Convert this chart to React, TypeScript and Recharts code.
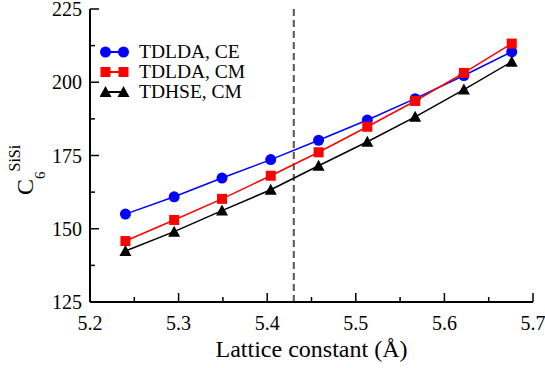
import React from 'react';
import { LineChart, Line, XAxis, YAxis, ReferenceLine, Legend } from 'recharts';

// lattice constant (Å) and C6 values
const lattice = [5.24, 5.295, 5.349, 5.404, 5.458, 5.513, 5.567, 5.622, 5.676];
const tdldaCE = [155.0, 160.9, 167.3, 173.6, 180.2, 187.1, 194.4, 202.3, 210.4];
const tdldaCM = [145.8, 153.0, 160.2, 168.1, 176.1, 184.8, 193.6, 203.2, 213.2];
const tdhseCM = [142.4, 149.0, 156.2, 163.3, 171.5, 179.7, 188.2, 197.5, 207.0];

const xTicks = [5.2, 5.25, 5.3, 5.35, 5.4, 5.45, 5.5, 5.55, 5.6, 5.65, 5.7];
const yTicks = [125, 137.5, 150, 162.5, 175, 187.5, 200, 212.5, 225];
const siLattice = 5.43;

const series = [
  { key: 'ce', name: 'TDLDA, CE', color: '#0000ff', shape: 'circle' },
  { key: 'cm', name: 'TDLDA, CM', color: '#ff0000', shape: 'square' },
  { key: 'hse', name: 'TDHSE, CM', color: '#000000', shape: 'triangle' },
];

const data = lattice.map((a, i) => ({ a, ce: tdldaCE[i], cm: tdldaCM[i], hse: tdhseCM[i] }));

const FONT = 'Liberation Serif';

function Marker({ shape, cx, cy, color }: { shape: string; cx: number; cy: number; color: string }) {
  if (shape === 'circle') return <circle cx={cx} cy={cy} r={5.5} fill={color} />;
  if (shape === 'square') return <rect x={cx - 5} y={cy - 5} width={10} height={10} fill={color} />;
  return <polygon points={`${cx},${cy - 6} ${cx + 6},${cy + 5} ${cx - 6},${cy + 5}`} fill={color} />;
}

const isMajorX = (v: number) => Math.abs(v * 10 - Math.round(v * 10)) < 1e-6;
const isMajorY = (v: number) => v % 25 === 0;

function BottomTick(props: any) {
  const { x, y, payload } = props;
  const major = isMajorX(payload.value);
  return (
    <g>
      <line x1={x} x2={x} y1={y} y2={y - (major ? 9 : 5)} stroke="#000" strokeWidth={1.5} />
      {major && (
        <text x={x} y={y + 28} textAnchor="middle" fontFamily={FONT} fontSize={20} fill="#000">
          {payload.value.toFixed(1)}
        </text>
      )}
    </g>
  );
}

function TopTick(props: any) {
  const { x, y, payload } = props;
  const major = isMajorX(payload.value);
  return <line x1={x} x2={x} y1={y} y2={y + (major ? 9 : 5)} stroke="#000" strokeWidth={1.5} />;
}

function LeftTick(props: any) {
  const { x, y, payload } = props;
  const major = isMajorY(payload.value);
  return (
    <g>
      <line x1={x} x2={x + (major ? 9 : 5)} y1={y} y2={y} stroke="#000" strokeWidth={1.5} />
      {major && (
        <text x={x - 8} y={y + 7} textAnchor="end" fontFamily={FONT} fontSize={20} fill="#000">
          {payload.value}
        </text>
      )}
    </g>
  );
}

function RightTick(props: any) {
  const { x, y, payload } = props;
  const major = isMajorY(payload.value);
  return <line x1={x} x2={x - (major ? 9 : 5)} y1={y} y2={y} stroke="#000" strokeWidth={1.5} />;
}

function YTitle() {
  return (
    <text x={33} y={195} transform="rotate(-90, 33, 195)" fontFamily={FONT} fontSize={24} fill="#000">
      C
      <tspan fontSize={15} dy={12}>6</tspan>
      <tspan fontSize={16} dy={-25}>SiSi</tspan>
    </text>
  );
}

function LegendBox() {
  return (
    <div style={{ fontFamily: FONT, fontSize: 19.5, lineHeight: '20px', color: '#000' }}>
      {series.map(s => (
        <div key={s.key} style={{ display: 'flex', alignItems: 'center', height: 20 }}>
          <svg width={36} height={16} style={{ marginRight: 3 }}>
            <line x1={5} x2={23} y1={8} y2={8} stroke={s.color} strokeWidth={2} />
            <Marker shape={s.shape} cx={5.5} cy={8} color={s.color} />
            <Marker shape={s.shape} cx={23.5} cy={8} color={s.color} />
          </svg>
          <span>{s.name}</span>
        </div>
      ))}
    </div>
  );
}

export default function App() {
  return (
    <div style={{ position: 'absolute', left: 0, top: 0, background: '#fff' }}>
      <LineChart width={545} height={368} data={data}
        margin={{ top: 9, right: 12, left: 0, bottom: 0 }}>
        <XAxis xAxisId="b" dataKey="a" type="number" domain={[5.2, 5.7]} ticks={xTicks}
          interval={0} tickSize={0} tickMargin={0} tick={<BottomTick />} height={66}
          axisLine={{ stroke: '#000', strokeWidth: 2 }}
          label={{ value: 'Lattice constant (Å)', position: 'insideBottom', offset: 11,
            fontFamily: FONT, fontSize: 24, fill: '#000' }} />
        <XAxis xAxisId="t" orientation="top" dataKey="a" type="number" domain={[5.2, 5.7]}
          ticks={xTicks} interval={0} tickSize={0} tickMargin={0} tick={<TopTick />} height={0}
          axisLine={{ stroke: '#000', strokeWidth: 2 }} />
        <YAxis yAxisId="l" type="number" domain={[125, 225]} ticks={yTicks} interval={0}
          tickSize={0} tickMargin={0} tick={<LeftTick />} width={90}
          axisLine={{ stroke: '#000', strokeWidth: 2 }} label={<YTitle />} />
        <YAxis yAxisId="r" orientation="right" type="number" domain={[125, 225]} ticks={yTicks}
          interval={0} tickSize={0} tickMargin={0} tick={<RightTick />} width={0}
          axisLine={{ stroke: '#000', strokeWidth: 2 }} />
        <ReferenceLine xAxisId="b" yAxisId="l" x={siLattice} stroke="#555" strokeWidth={2}
          strokeDasharray="7 4" />
        <Legend verticalAlign="middle" align="center" layout="horizontal" content={<LegendBox />}
          wrapperStyle={{ left: 100, top: 42, width: 'auto' }} />
        {series.map(s => (
          <Line key={s.key} xAxisId="b" yAxisId="l" dataKey={s.key} name={s.name}
            stroke={s.color} strokeWidth={1.5} isAnimationActive={false}
            dot={(p: any) => <Marker key={`${s.key}-${p.index}`} shape={s.shape} cx={p.cx} cy={p.cy} color={s.color} />} />
        ))}
      </LineChart>
    </div>
  );
}
